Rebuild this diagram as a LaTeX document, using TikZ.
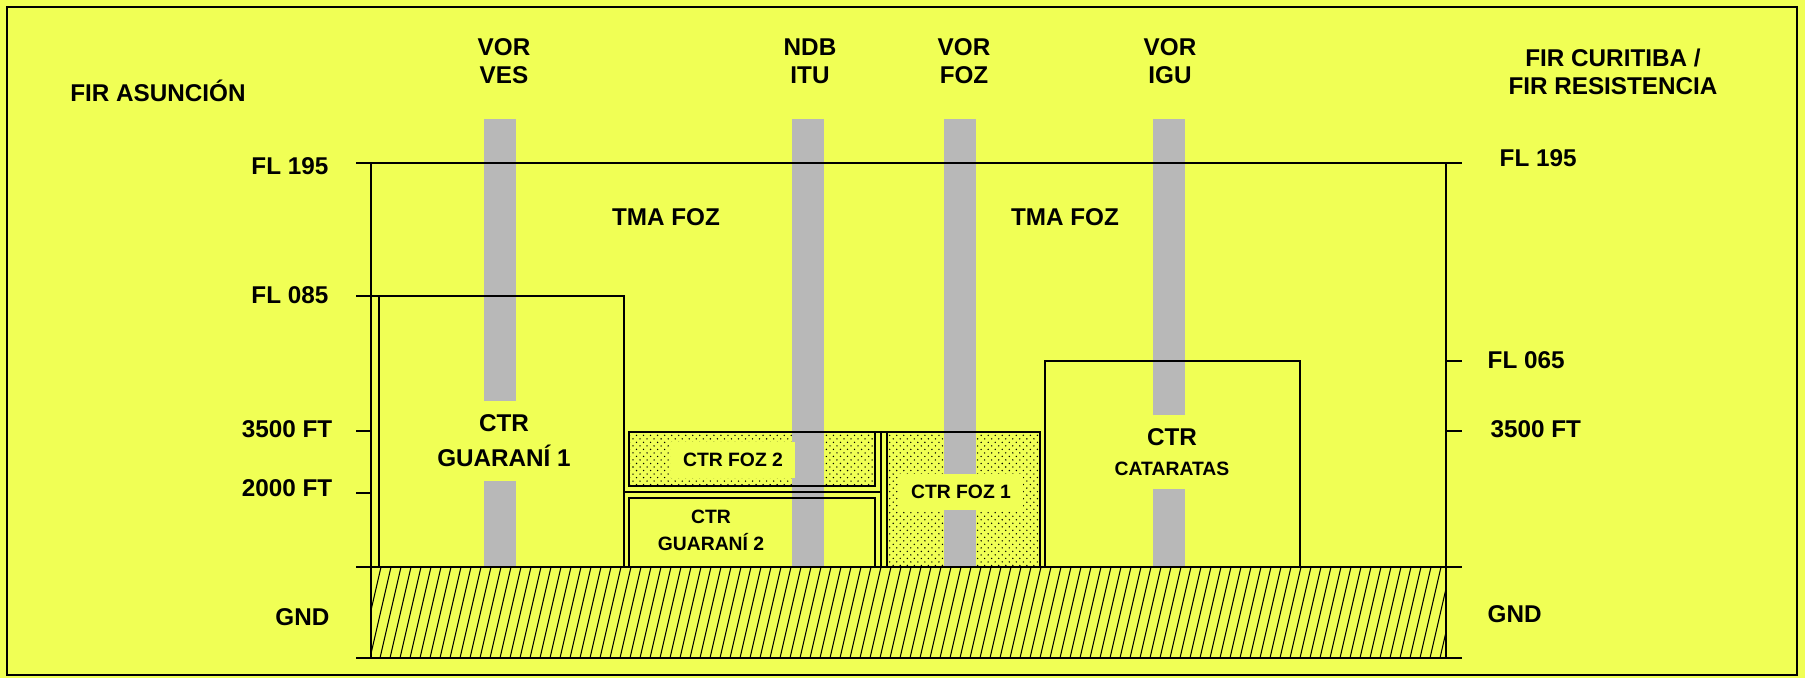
\documentclass[tikz,border=0pt]{standalone}
\usepackage{fontspec}
\setmainfont{Liberation Sans}
\usetikzlibrary{patterns}

\definecolor{chartyellow}{RGB}{240,255,85}
\definecolor{beacongray}{RGB}{184,184,184}

\pgfdeclarepatternformonly{finedots}{\pgfqpoint{-0.5pt}{-0.5pt}}{\pgfqpoint{2.5pt}{2.5pt}}{\pgfqpoint{2pt}{2pt}}{%
    \pgfpathcircle{\pgfqpoint{0pt}{0pt}}{0.22pt}%
    \pgfpathcircle{\pgfqpoint{1pt}{1pt}}{0.22pt}%
    \pgfusepath{fill}}

\tikzset{
    lbl/.style={font=\fontsize{6.9}{8}\selectfont\bfseries, inner sep=0pt, align=center},
    smalllbl/.style={font=\fontsize{5.5}{6.6}\selectfont\bfseries, inner sep=0pt, align=center},
    gaplbl/.style={fill=chartyellow, inner xsep=3pt, inner ysep=4pt},
    beacon/.style={fill=beacongray},
    zone/.style={line width=0.45pt},
}

\begin{document}
\begin{tikzpicture}[x=0.01cm, y=-0.01cm]
    % background and frame
    \fill[chartyellow] (0,0) rectangle (1805,678);
    \draw[line width=0.5pt] (7,7) rectangle (1797,675);

    % ground hatching
    \begin{scope}
        \clip (371,567) rectangle (1446,658);
        \foreach \x in {340,350,...,1450}
            \draw[line width=0.3pt] (\x,658) -- ++(21,-91);
    \end{scope}

    % dotted CTR zones
    \fill[pattern=finedots] (629,432) rectangle (875,486);
    \fill[pattern=finedots] (887,432) rectangle (1040,567);

    % navaid columns
    \foreach \c in {500,808,960,1169}
        \fill[beacon] (\c-16,119) rectangle (\c+16,567);

    % TMA limits and ground
    \draw[zone] (356,163) -- (1462,163);
    \draw[zone] (371,163) -- (371,658);
    \draw[zone] (1446,163) -- (1446,658);
    \draw[zone] (356,567) -- (1462,567);
    \draw[zone] (356,658) -- (1462,658);

    % level ticks
    \draw[zone] (356,296) -- (379,296);
    \draw[zone] (356,431) -- (371,431);
    \draw[zone] (356,493) -- (371,493);
    \draw[zone] (1446,361) -- (1462,361);
    \draw[zone] (1446,431) -- (1462,431);

    % CTR boxes
    \draw[zone] (379,296) rectangle (624,567);
    \draw[zone] (1045,361) rectangle (1300,567);
    \draw[zone] (629,432) rectangle (875,486);
    \draw[zone] (629,498) rectangle (875,567);
    \draw[zone] (887,432) rectangle (1040,567);
    \draw[zone] (875,432) -- (887,432);
    \draw[zone] (624,492) -- (881,492);
    \draw[zone] (881,432) -- (881,567);

    % FIR names and navaids
    \node[lbl] (firasu) at (158,91) {FIR ASUNCIÓN};
    \node[lbl] (firres) at (1613,72) {FIR CURITIBA /\\FIR RESISTENCIA};
    \node[lbl] (ves) at (504,61) {VOR\\VES};
    \node[lbl] (itu) at (810,61) {NDB\\ITU};
    \node[lbl] (foz) at (964,61) {VOR\\FOZ};
    \node[lbl] (igu) at (1170,61) {VOR\\IGU};

    % levels
    \node[lbl, anchor=east] (fl195l) at (329,166) {FL 195};
    \node[lbl, anchor=east] (fl085l) at (329,295) {FL 085};
    \node[lbl, anchor=east] (ft3500l) at (333,429) {3500 FT};
    \node[lbl, anchor=east] (ft2000l) at (333,488) {2000 FT};
    \node[lbl, anchor=east] (gndl) at (330,617) {GND};
    \node[lbl, anchor=west] (fl195r) at (1499,158) {FL 195};
    \node[lbl, anchor=west] (fl065r) at (1487,360) {FL 065};
    \node[lbl, anchor=west] (ft3500r) at (1490,429) {3500 FT};
    \node[lbl, anchor=west] (gndr) at (1487,614) {GND};

    % airspace names
    \node[lbl] (tmaw) at (666,217) {TMA FOZ};
    \node[lbl] (tmae) at (1065,217) {TMA FOZ};
    \node[lbl, gaplbl] (guarani1) at (504,441) {CTR\\[2pt]GUARANÍ 1};
    \node[smalllbl] (guarani2) at (711,530) {CTR\\[1.1pt]GUARANÍ 2};
    \node[smalllbl, gaplbl, inner xsep=3.3pt, inner ysep=3.2pt] (foz2) at (733,460) {CTR FOZ 2};
    \node[smalllbl, gaplbl, inner xsep=3.3pt, inner ysep=3.2pt] (foz1) at (961,492) {CTR FOZ 1};
    \node[lbl, gaplbl, inner ysep=3.8pt] (cataratas) at (1172,452) {CTR\\[0.5pt]{\fontsize{5.5}{6.6}\selectfont CATARATAS}};
\end{tikzpicture}
\end{document}
